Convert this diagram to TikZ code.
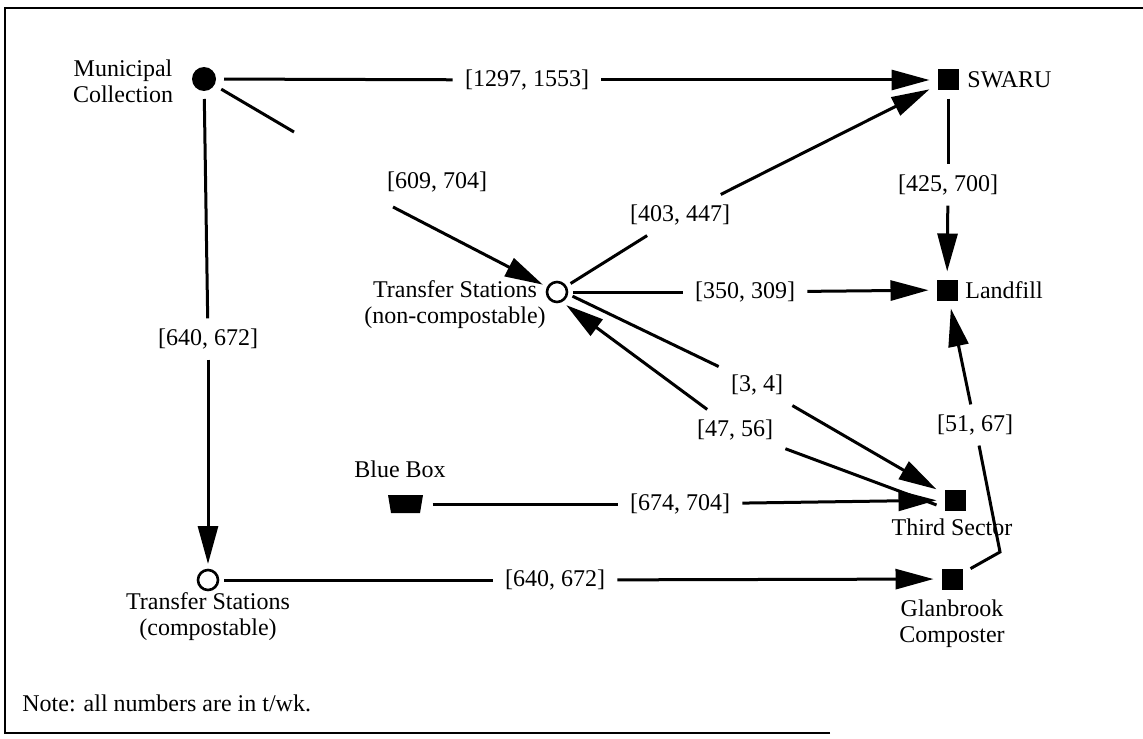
\documentclass[tikz,border=0pt]{standalone}
\usepackage{fontspec}
\setmainfont{Liberation Serif}
\usetikzlibrary{arrows.meta}
\begin{document}
\begin{tikzpicture}[x=0.5pt,y=-0.5pt,
 font=\fontsize{12}{13}\selectfont,
 line/.style={line width=1.5pt},
 arr/.style={line width=1.5pt,-{Triangle[length=19pt,width=10pt]}},
 lbl/.style={inner xsep=6pt,inner ysep=5pt},
 sq/.style={rectangle,fill=black,minimum size=10.5pt,inner sep=0pt,outer sep=4pt},
 hole/.style={circle,draw,line width=1.3pt,minimum size=10pt,inner sep=0pt,outer sep=3pt},
 txt/.style={align=center,inner sep=0pt}]
\useasboundingbox (0,0) rectangle (1143,738);
\draw[line width=1pt] (830,733) -- (5,733) -- (5,8) -- (1143,8);
% nodes
\node[circle,fill=black,minimum size=12pt,inner sep=0pt,outer sep=4pt] (mc) at (204,79) {};
\node[txt] (mct) at (123,81) {Municipal\\Collection};
\node[sq] (swaru) at (948,80) {};
\node[txt,anchor=west] (swarut) at (967,80) {SWARU};
\node[sq] (land) at (947,290) {};
\node[txt,anchor=west] (landt) at (965,290) {Landfill};
\node[hole] (tsn) at (557,292) {};
\node[txt] (tsnt) at (455,305) {Transfer Stations\\(non-compostable)};
\node[sq] (third) at (955,500) {};
\node[txt] (thirdt) at (952,527) {Third Sector};
\fill (388,495) -- (423,495) -- (420,513) -- (391,513) -- cycle;
\node[rectangle,minimum width=17.5pt,minimum height=9pt,inner sep=0pt,outer sep=5pt] (bb) at (405,504) {};
\node[txt] (bbt) at (400,469) {Blue Box};
\node[hole] (tsc) at (208,580) {};
\node[txt] (tsct) at (208,617) {Transfer Stations\\(compostable)};
\node[sq] (glan) at (952,579) {};
\node[txt] (glant) at (952,624) {Glanbrook\\Composter};
\node[txt,anchor=west] (note) at (22,703) {Note: all numbers are in t/wk.};
% labels
\node[lbl] (l1) at (527,80) {[1297, 1553]};
\node[lbl] (l2) at (437,182) {[609, 704]};
\node[lbl] (l3) at (680,215) {[403, 447]};
\node[lbl] (l4) at (745,292) {[350, 309]};
\node[lbl] (l5) at (948,185) {[425, 700]};
\node[lbl] (l6) at (208,339) {[640, 672]};
\node[lbl] (l7) at (757,385) {[3, 4]};
\node[lbl] (l8) at (735,430) {[47, 56]};
\node[lbl] (l9) at (680,504) {[674, 704]};
\node[lbl] (l10) at (555,580) {[640, 672]};
\node[lbl] (l11) at (975,425) {[51, 67]};
\coordinate (g1) at (294,132);
\coordinate (g2) at (393,207);
\coordinate (bend) at (1000,552);
% edges
\draw[line] (mc) -- (l1); \draw[arr] (l1) -- (swaru);
\draw[line] (mc) -- (g1); \draw[arr] (g2) -- (tsn);
\draw[line] (tsn) -- (l3); \draw[arr] (l3) -- (swaru);
\draw[line] (tsn) -- (l4); \draw[arr] (l4) -- (land);
\draw[line] (swaru) -- (l5); \draw[arr] (l5) -- (land);
\draw[line] (mc) -- (l6); \draw[arr] (l6) -- (tsc);
\draw[line] (tsn.-15) -- (l7); \draw[arr] (l7) -- (third.150);
\draw[line] (third.195) -- (l8); \draw[arr] (l8) -- (tsn.-55);
\draw[line] (bb) -- (l9); \draw[arr] (l9) -- (third);
\draw[line] (tsc) -- (l10); \draw[arr] (l10) -- (glan);
\draw[line] (glan) -- (bend) -- (l11); \draw[arr] (l11) -- (land);
\end{tikzpicture}
\end{document}
